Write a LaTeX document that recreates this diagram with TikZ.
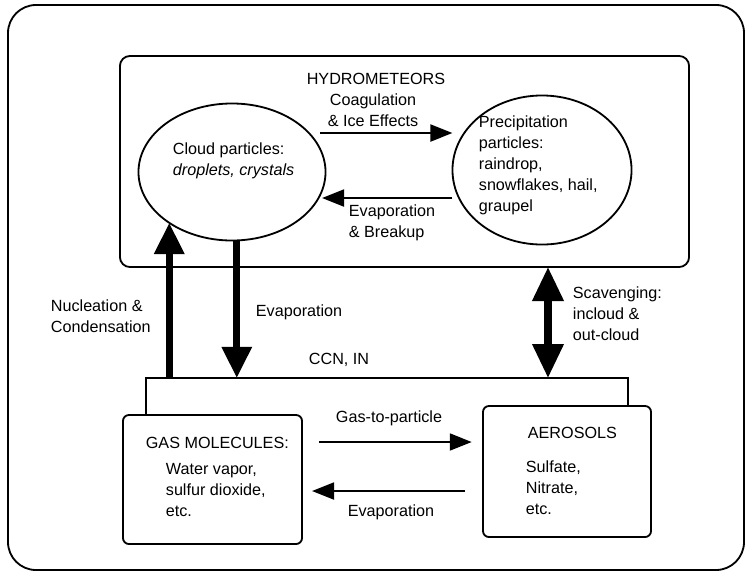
\documentclass[tikz,border=0pt]{standalone}
\usepackage{fontspec}
\setmainfont{Liberation Sans}
\usetikzlibrary{arrows.meta,shapes.geometric}

\begin{document}
\begin{tikzpicture}[x=0.025cm, y=-0.025cm, line width=1.3pt,
    every node/.style={font=\fontsize{11.5}{15}\selectfont},
    txt/.style={anchor=west, align=left, inner sep=0pt},
    box/.style={draw, rounded corners=0.15cm, inner sep=0pt, outer sep=0pt},
    blob/.style={draw, ellipse, inner sep=0pt, outer sep=0pt},
    arr/.style={line width=1.8pt, -{Triangle[length=0.55cm, width=0.42cm]}},
    bigarr/.style={line width=5pt, -{Triangle[length=0.78cm, width=0.72cm]}},
    bigdbl/.style={line width=5pt, {Triangle[length=0.85cm, width=0.75cm]}-{Triangle[length=0.85cm, width=0.75cm]}}]
    \useasboundingbox (0,0) rectangle (748,574);
    % Frame
    \draw[rounded corners=0.7cm] (8,5) rectangle (744,570);
    % Boxes
    \node[box, rounded corners=0.25cm, minimum width=14.225cm, minimum height=5.275cm] (hydro) at (404.5,161.5) {};
    \node[box, minimum width=4.475cm, minimum height=3.225cm] (gas) at (212.5,479.5) {};
    \node[box, minimum width=4.2cm, minimum height=3.275cm] (aero) at (567,471.5) {};
    % Particles
    \node[blob, minimum width=4.675cm, minimum height=3.425cm] (cloud) at (232,172) {};
    \node[blob, minimum width=4.475cm, minimum height=3.725cm] (precip) at (542,170) {};
    % Labels
    \node (hydlbl) at (376,79) {HYDROMETEORS};
    \node[align=center] (coaglbl) at (373,110) {Coagulation\\\& Ice Effects};
    \node[txt] (brklbl) at (348,223) {Evaporation\\\& Breakup};
    \node[txt] (cloudlbl) at (172,161) {Cloud particles:\\\textit{droplets, crystals}};
    \node[txt] (preciplbl) at (478,165) {Precipitation\\particles:\\raindrop,\\snowflakes, hail,\\graupel};
    \node[txt] (nuclbl) at (50,316) {Nucleation \&\\Condensation};
    \node[txt] (evaplbl) at (255,312) {Evaporation};
    \node[txt] (scavlbl) at (572,314) {Scavenging:\\incloud \&\\out-cloud};
    \node (ccnlbl) at (339,360) {CCN, IN};
    \node (g2plbl) at (389,418) {Gas-to-particle};
    \node (evblbl) at (391,512) {Evaporation};
    \node[txt] (gaslbl) at (145,443) {GAS MOLECULES:};
    \node[txt] (gasitems) at (165,490) {Water vapor,\\sulfur dioxide,\\etc.};
    \node[txt] (aerolbl) at (527,433) {AEROSOLS};
    \node[txt] (aeroitems) at (525,488) {Sulfate,\\Nitrate,\\etc.};
    % CCN, IN bracket
    \coordinate (ccnL) at (146,378);
    \coordinate (ccnR) at (628,378);
    \draw (gas.north -| ccnL) -- (ccnL) -- (ccnR) -- (aero.north -| ccnR);
    % Arrows between hydrometeors
    \coordinate (coag) at (320,133);
    \coordinate (brk) at (322,198);
    \draw[arr] (coag) -- (coag -| precip.west);
    \draw[arr] (brk -| precip.west) -- (brk);
    % Arrows to and from the gas phase
    \draw[bigarr] (cloud.219 |- ccnL) -- (cloud.219);
    \draw[bigarr] (cloud.274) -- (cloud.274 |- ccnL);
    \coordinate (scav) at (548,378);
    \draw[bigdbl] (scav) -- (scav |- hydro.south);
    % Arrows between gas and aerosols
    \coordinate (g2p) at (319,442);
    \coordinate (evb) at (312,491);
    \draw[arr] (g2p) -- ([xshift=-0.28cm]aero.west |- g2p);
    \draw[arr] ([xshift=-0.45cm]aero.west |- evb) -- (evb);
\end{tikzpicture}
\end{document}
